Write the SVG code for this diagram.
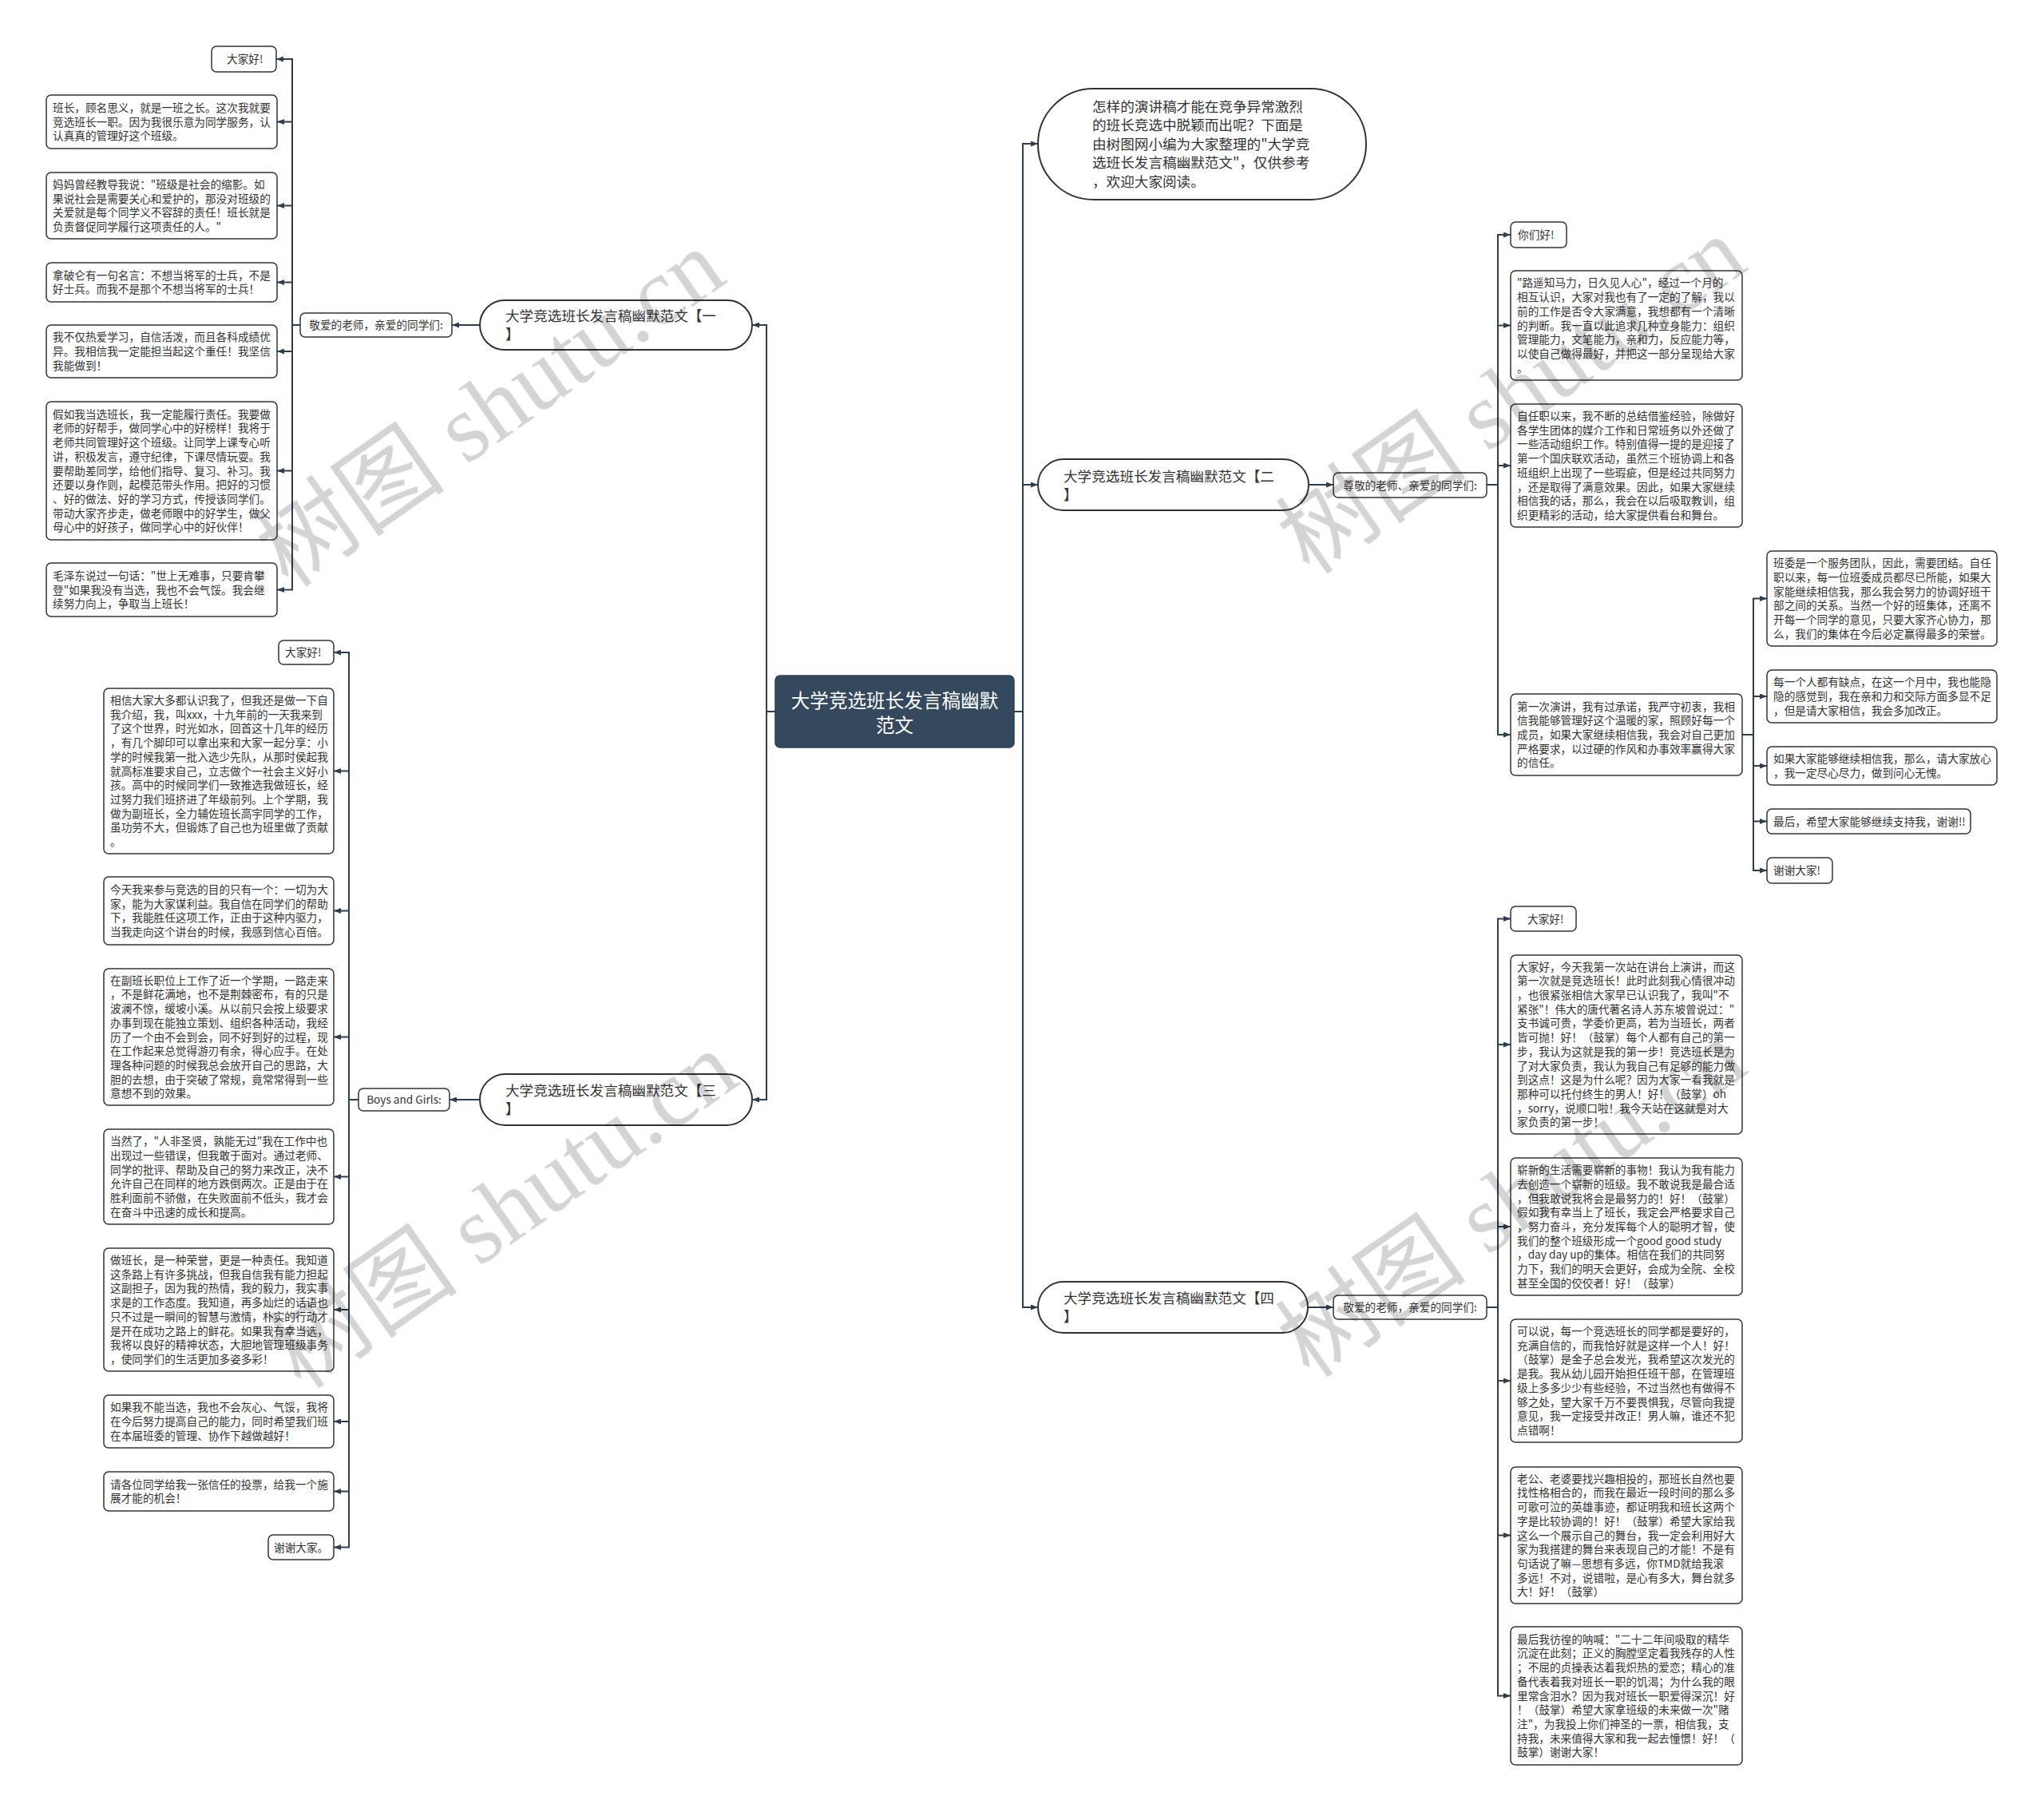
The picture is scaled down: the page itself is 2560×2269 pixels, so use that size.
<svg xmlns="http://www.w3.org/2000/svg" width="2560" height="2269" viewBox="0 0 2560 2269">
<style>
.t{font-family:"Noto Sans CJK SC","Noto Sans",sans-serif;font-size:13.65px;fill:#333}
.b{font-family:"Noto Sans CJK SC","Noto Sans",sans-serif;font-size:17.6px;fill:#333}
.r{font-family:"Noto Sans CJK SC","Noto Sans",sans-serif;font-size:23.6px;fill:#fff}
.leaf{fill:#fff;stroke:#333;stroke-width:1.5}
.pill{fill:#fff;stroke:#333;stroke-width:2}
.c{fill:none;stroke:#2d3e50;stroke-width:2}
.wm{font-family:"Liberation Serif","Noto Sans CJK SC",serif;font-size:120px;fill:#000}
</style>
<defs>
<marker id="a" markerWidth="9" markerHeight="7" refX="9" refY="3.5" orient="auto" markerUnits="userSpaceOnUse"><path d="M0,0 L9,3.5 L0,7 z" fill="#2d3e50"/></marker>
</defs>
<rect width="2560" height="2269" fill="#fff"/>

<g id="connectors">
<path class="c" marker-end="url(#a)" d="M1270,891 H1281 V180 H1300"/>
<path class="c" marker-end="url(#a)" d="M1270,891 H1281 V607 H1300"/>
<path class="c" marker-end="url(#a)" d="M1270,891 H1281 V1637 H1300"/>
<path class="c" marker-end="url(#a)" d="M971,891 H960 V407 H942"/>
<path class="c" marker-end="url(#a)" d="M971,891 H960 V1377 H942"/>
<path class="c" marker-end="url(#a)" d="M601,407 H566"/>
<path class="c" marker-end="url(#a)" d="M376,407 H366 V74 H346"/>
<path class="c" marker-end="url(#a)" d="M376,407 H366 V152.5 H347"/>
<path class="c" marker-end="url(#a)" d="M376,407 H366 V257.5 H347"/>
<path class="c" marker-end="url(#a)" d="M376,407 H366 V353.5 H347"/>
<path class="c" marker-end="url(#a)" d="M376,407 H366 V440 H347"/>
<path class="c" marker-end="url(#a)" d="M376,407 H366 V589.5 H347"/>
<path class="c" marker-end="url(#a)" d="M376,407 H366 V738.5 H347"/>
<path class="c" marker-end="url(#a)" d="M601,1377 H563"/>
<path class="c" marker-end="url(#a)" d="M449,1377 H437 V817 H418"/>
<path class="c" marker-end="url(#a)" d="M449,1377 H437 V965.5 H418"/>
<path class="c" marker-end="url(#a)" d="M449,1377 H437 V1140.5 H418"/>
<path class="c" marker-end="url(#a)" d="M449,1377 H437 V1298.5 H418"/>
<path class="c" marker-end="url(#a)" d="M449,1377 H437 V1473.5 H418"/>
<path class="c" marker-end="url(#a)" d="M449,1377 H437 V1640 H418"/>
<path class="c" marker-end="url(#a)" d="M449,1377 H437 V1780 H418"/>
<path class="c" marker-end="url(#a)" d="M449,1377 H437 V1867.5 H418"/>
<path class="c" marker-end="url(#a)" d="M449,1377 H437 V1937.5 H418"/>
<path class="c" marker-end="url(#a)" d="M1639,607 H1670"/>
<path class="c" marker-end="url(#a)" d="M1862,607 H1876 V294 H1892"/>
<path class="c" marker-end="url(#a)" d="M1862,607 H1876 V407.5 H1892"/>
<path class="c" marker-end="url(#a)" d="M1862,607 H1876 V583 H1892"/>
<path class="c" marker-end="url(#a)" d="M1862,607 H1876 V920 H1892"/>
<path class="c" marker-end="url(#a)" d="M2182,920 H2196 V749.5 H2213"/>
<path class="c" marker-end="url(#a)" d="M2182,920 H2196 V872 H2213"/>
<path class="c" marker-end="url(#a)" d="M2182,920 H2196 V959 H2213"/>
<path class="c" marker-end="url(#a)" d="M2182,920 H2196 V1028.5 H2213"/>
<path class="c" marker-end="url(#a)" d="M2182,920 H2196 V1090 H2213"/>
<path class="c" marker-end="url(#a)" d="M1638,1637 H1670"/>
<path class="c" marker-end="url(#a)" d="M1862,1637 H1876 V1150.5 H1892"/>
<path class="c" marker-end="url(#a)" d="M1862,1637 H1876 V1308 H1892"/>
<path class="c" marker-end="url(#a)" d="M1862,1637 H1876 V1536 H1892"/>
<path class="c" marker-end="url(#a)" d="M1862,1637 H1876 V1729 H1892"/>
<path class="c" marker-end="url(#a)" d="M1862,1637 H1876 V1922.5 H1892"/>
<path class="c" marker-end="url(#a)" d="M1862,1637 H1876 V2123.5 H1892"/>
</g>

<g id="root">
<rect x="971" y="846" width="299" height="90" rx="6" fill="#34495e" stroke="#2c3e50" stroke-width="1.5"/>
<text class="r" text-anchor="middle"><tspan x="1120.5" y="886">大学竞选班长发言稿幽默</tspan><tspan x="1120.5" dy="30.5">范文</tspan></text>
</g>

<g id="intro">
<rect class="pill" x="1300" y="111" width="411" height="139" rx="69.5"/>
<text class="b"><tspan x="1368" y="139.7">怎样的演讲稿才能在竞争异常激烈</tspan><tspan x="1368" dy="23.5">的班长竞选中脱颖而出呢？下面是</tspan><tspan x="1368" dy="23.5">由树图网小编为大家整理的"大学竞</tspan><tspan x="1368" dy="23.5">选班长发言稿幽默范文"，仅供参考</tspan><tspan x="1368" dy="23.5">，欢迎大家阅读。</tspan></text>
</g>

<g id="branch1">
<rect class="pill" x="601" y="376" width="341" height="62" rx="31"/>
<text class="b"><tspan x="633" y="402.2">大学竞选班长发言稿幽默范文【一</tspan><tspan x="633" dy="23">】</tspan></text>
</g>
<g id="branch2">
<rect class="pill" x="1300" y="575" width="339" height="64" rx="32"/>
<text class="b"><tspan x="1332" y="602.7">大学竞选班长发言稿幽默范文【二</tspan><tspan x="1332" dy="23">】</tspan></text>
</g>
<g id="branch3">
<rect class="pill" x="601" y="1345" width="341" height="64" rx="32"/>
<text class="b"><tspan x="633" y="1372.2">大学竞选班长发言稿幽默范文【三</tspan><tspan x="633" dy="23">】</tspan></text>
</g>
<g id="branch4">
<rect class="pill" x="1300" y="1605" width="338" height="64" rx="32"/>
<text class="b"><tspan x="1332" y="1632.2">大学竞选班长发言稿幽默范文【四</tspan><tspan x="1332" dy="23">】</tspan></text>
</g>

<g id="label1">
<rect class="leaf" x="376" y="392" width="190" height="30" rx="6"/>
<text class="t" x="471" y="412" text-anchor="middle">敬爱的老师，亲爱的同学们:</text>
</g>
<g id="label2">
<rect class="leaf" x="1670" y="592" width="192" height="31" rx="6"/>
<text class="t" x="1766" y="612.5" text-anchor="middle">尊敬的老师、亲爱的同学们:</text>
</g>
<g id="label3">
<rect class="leaf" x="449" y="1363" width="114" height="28" rx="6"/>
<text class="t" x="506" y="1382" text-anchor="middle">Boys and Girls:</text>
</g>
<g id="label4">
<rect class="leaf" x="1670" y="1622" width="192" height="30" rx="6"/>
<text class="t" x="1766" y="1642" text-anchor="middle">敬爱的老师，亲爱的同学们:</text>
</g>

<!-- branch 1 leaves -->
<g id="b1n1"><rect class="leaf" x="265" y="58" width="81" height="32" rx="6"/><text class="t" x="284" y="79">大家好!</text></g>
<g id="b1n2"><rect class="leaf" x="58" y="119" width="289" height="67" rx="6"/><text class="t"><tspan x="66" y="139.8">班长，顾名思义，就是一班之长。这次我就要</tspan><tspan x="66" dy="17.7">竞选班长一职。因为我很乐意为同学服务，认</tspan><tspan x="66" dy="17.7">认真真的管理好这个班级。</tspan></text></g>
<g id="b1n3"><rect class="leaf" x="58" y="216" width="289" height="83" rx="6"/><text class="t"><tspan x="66" y="235.95">妈妈曾经教导我说："班级是社会的缩影。如</tspan><tspan x="66" dy="17.7">果说社会是需要关心和爱护的，那没对班级的</tspan><tspan x="66" dy="17.7">关爱就是每个同学义不容辞的责任！班长就是</tspan><tspan x="66" dy="17.7">负责督促同学履行这项责任的人。"</tspan></text></g>
<g id="b1n4"><rect class="leaf" x="58" y="329" width="289" height="49" rx="6"/><text class="t"><tspan x="66" y="349.65">拿破仑有一句名言：不想当将军的士兵，不是</tspan><tspan x="66" dy="17.7">好士兵。而我不是那个不想当将军的士兵！</tspan></text></g>
<g id="b1n5"><rect class="leaf" x="58" y="407" width="289" height="66" rx="6"/><text class="t"><tspan x="66" y="427.3">我不仅热爱学习，自信活泼，而且各科成绩优</tspan><tspan x="66" dy="17.7">异。我相信我一定能担当起这个重任！我坚信</tspan><tspan x="66" dy="17.7">我能做到！</tspan></text></g>
<g id="b1n6"><rect class="leaf" x="58" y="503" width="289" height="173" rx="6"/><text class="t"><tspan x="66" y="523.7">假如我当选班长，我一定能履行责任。我要做</tspan><tspan x="66" dy="17.7">老师的好帮手，做同学心中的好榜样！我将于</tspan><tspan x="66" dy="17.7">老师共同管理好这个班级。让同学上课专心听</tspan><tspan x="66" dy="17.7">讲，积极发言，遵守纪律，下课尽情玩耍。我</tspan><tspan x="66" dy="17.7">要帮助差同学，给他们指导、复习、补习。我</tspan><tspan x="66" dy="17.7">还要以身作则，起模范带头作用。把好的习惯</tspan><tspan x="66" dy="17.7">、好的做法、好的学习方式，传授该同学们。</tspan><tspan x="66" dy="17.7">带动大家齐步走，做老师眼中的好学生，做父</tspan><tspan x="66" dy="17.7">母心中的好孩子，做同学心中的好伙伴！</tspan></text></g>
<g id="b1n7"><rect class="leaf" x="58" y="705" width="289" height="67" rx="6"/><text class="t"><tspan x="66" y="725.8">毛泽东说过一句话："世上无难事，只要肯攀</tspan><tspan x="66" dy="17.7">登"如果我没有当选，我也不会气馁。我会继</tspan><tspan x="66" dy="17.7">续努力向上，争取当上班长！</tspan></text></g>

<!-- branch 3 leaves -->
<g id="b3n1"><rect class="leaf" x="349" y="802" width="69" height="30" rx="6"/><text class="t" x="357" y="822">大家好!</text></g>
<g id="b3n2"><rect class="leaf" x="130" y="862" width="288" height="207" rx="6"/><text class="t"><tspan x="138" y="882">相信大家大多都认识我了，但我还是做一下自</tspan><tspan x="138" dy="17.7">我介绍，我，叫xxx，十九年前的一天我来到</tspan><tspan x="138" dy="17.7">了这个世界，时光如水，回首这十几年的经历</tspan><tspan x="138" dy="17.7">，有几个脚印可以拿出来和大家一起分享：小</tspan><tspan x="138" dy="17.7">学的时候我第一批入选少先队，从那时侯起我</tspan><tspan x="138" dy="17.7">就高标准要求自己，立志做个一社会主义好小</tspan><tspan x="138" dy="17.7">孩。高中的时候同学们一致推选我做班长，经</tspan><tspan x="138" dy="17.7">过努力我们班挤进了年级前列。上个学期，我</tspan><tspan x="138" dy="17.7">做为副班长，全力辅佐班长高宇同学的工作，</tspan><tspan x="138" dy="17.7">虽功劳不大，但锻炼了自己也为班里做了贡献</tspan><tspan x="138" dy="17.7">。</tspan></text></g>
<g id="b3n3"><rect class="leaf" x="130" y="1098" width="288" height="85" rx="6"/><text class="t"><tspan x="138" y="1118.95">今天我来参与竞选的目的只有一个：一切为大</tspan><tspan x="138" dy="17.7">家，能为大家谋利益。我自信在同学们的帮助</tspan><tspan x="138" dy="17.7">下，我能胜任这项工作，正由于这种内驱力，</tspan><tspan x="138" dy="17.7">当我走向这个讲台的时候，我感到信心百倍。</tspan></text></g>
<g id="b3n4"><rect class="leaf" x="130" y="1213" width="288" height="171" rx="6"/><text class="t"><tspan x="138" y="1232.7">在副班长职位上工作了近一个学期，一路走来</tspan><tspan x="138" dy="17.7">，不是鲜花满地，也不是荆棘密布，有的只是</tspan><tspan x="138" dy="17.7">波澜不惊，缓坡小溪。从以前只会按上级要求</tspan><tspan x="138" dy="17.7">办事到现在能独立策划、组织各种活动，我经</tspan><tspan x="138" dy="17.7">历了一个由不会到会，同不好到好的过程，现</tspan><tspan x="138" dy="17.7">在工作起来总觉得游刃有余，得心应手。在处</tspan><tspan x="138" dy="17.7">理各种问题的时候我总会放开自己的思路，大</tspan><tspan x="138" dy="17.7">胆的去想，由于突破了常规，竟常常得到一些</tspan><tspan x="138" dy="17.7">意想不到的效果。</tspan></text></g>
<g id="b3n5"><rect class="leaf" x="130" y="1414" width="288" height="119" rx="6"/><text class="t"><tspan x="138" y="1434.25">当然了，"人非圣贤，孰能无过"我在工作中也</tspan><tspan x="138" dy="17.7">出现过一些错误，但我敢于面对。通过老师、</tspan><tspan x="138" dy="17.7">同学的批评、帮助及自己的努力来改正，决不</tspan><tspan x="138" dy="17.7">允许自己在同样的地方跌倒两次。正是由于在</tspan><tspan x="138" dy="17.7">胜利面前不骄傲，在失败面前不低头，我才会</tspan><tspan x="138" dy="17.7">在奋斗中迅速的成长和提高。</tspan></text></g>
<g id="b3n6"><rect class="leaf" x="130" y="1563" width="288" height="154" rx="6"/><text class="t"><tspan x="138" y="1583.05">做班长，是一种荣誉，更是一种责任。我知道</tspan><tspan x="138" dy="17.7">这条路上有许多挑战，但我自信我有能力担起</tspan><tspan x="138" dy="17.7">这副担子，因为我的热情，我的毅力，我实事</tspan><tspan x="138" dy="17.7">求是的工作态度。我知道，再多灿烂的话语也</tspan><tspan x="138" dy="17.7">只不过是一瞬间的智慧与激情，朴实的行动才</tspan><tspan x="138" dy="17.7">是开在成功之路上的鲜花。如果我有幸当选，</tspan><tspan x="138" dy="17.7">我将以良好的精神状态，大胆地管理班级事务</tspan><tspan x="138" dy="17.7">，使同学们的生活更加多姿多彩！</tspan></text></g>
<g id="b3n7"><rect class="leaf" x="130" y="1747" width="288" height="66" rx="6"/><text class="t"><tspan x="138" y="1767.3">如果我不能当选，我也不会灰心、气馁，我将</tspan><tspan x="138" dy="17.7">在今后努力提高自己的能力，同时希望我们班</tspan><tspan x="138" dy="17.7">在本届班委的管理、协作下越做越好！</tspan></text></g>
<g id="b3n8"><rect class="leaf" x="130" y="1843" width="288" height="49" rx="6"/><text class="t"><tspan x="138" y="1863.65">请各位同学给我一张信任的投票，给我一个施</tspan><tspan x="138" dy="17.7">展才能的机会！</tspan></text></g>
<g id="b3n9"><rect class="leaf" x="336" y="1922" width="82" height="31" rx="6"/><text class="t" x="343" y="1942.5">谢谢大家。</text></g>

<!-- branch 2 leaves -->
<g id="b2n1"><rect class="leaf" x="1892" y="278" width="70" height="32" rx="6"/><text class="t" x="1901" y="299">你们好!</text></g>
<g id="b2n2"><rect class="leaf" x="1892" y="339" width="290" height="137" rx="6"/><text class="t"><tspan x="1900" y="359.4"> "路遥知马力，日久见人心"，经过一个月的</tspan><tspan x="1900" dy="17.7">相互认识，大家对我也有了一定的了解，我以</tspan><tspan x="1900" dy="17.7">前的工作是否令大家满意，我想都有一个清晰</tspan><tspan x="1900" dy="17.7">的判断。我一直以此追求几种立身能力：组织</tspan><tspan x="1900" dy="17.7">管理能力，文笔能力，亲和力，反应能力等，</tspan><tspan x="1900" dy="17.7">以使自己做得最好，并把这一部分呈现给大家</tspan><tspan x="1900" dy="17.7">。</tspan></text></g>
<g id="b2n3"><rect class="leaf" x="1892" y="506" width="290" height="154" rx="6"/><text class="t"><tspan x="1900" y="526.05">自任职以来，我不断的总结借鉴经验，除做好</tspan><tspan x="1900" dy="17.7">各学生团体的媒介工作和日常班务以外还做了</tspan><tspan x="1900" dy="17.7">一些活动组织工作。特别值得一提的是迎接了</tspan><tspan x="1900" dy="17.7">第一个国庆联欢活动，虽然三个班协调上和各</tspan><tspan x="1900" dy="17.7">班组织上出现了一些瑕疵，但是经过共同努力</tspan><tspan x="1900" dy="17.7">，还是取得了满意效果。因此，如果大家继续</tspan><tspan x="1900" dy="17.7">相信我的话，那么，我会在以后吸取教训，组</tspan><tspan x="1900" dy="17.7">织更精彩的活动，给大家提供看台和舞台。</tspan></text></g>
<g id="b2n4"><rect class="leaf" x="1892" y="869" width="290" height="102" rx="6"/><text class="t"><tspan x="1900" y="889.6">第一次演讲，我有过承诺，我严守初衷，我相</tspan><tspan x="1900" dy="17.7">信我能够管理好这个温暖的家，照顾好每一个</tspan><tspan x="1900" dy="17.7">成员，如果大家继续相信我，我会对自己更加</tspan><tspan x="1900" dy="17.7">严格要求，以过硬的作风和办事效率赢得大家</tspan><tspan x="1900" dy="17.7">的信任。</tspan></text></g>
<g id="b2n4a"><rect class="leaf" x="2213" y="690" width="288" height="119" rx="6"/><text class="t"><tspan x="2221" y="710.25">班委是一个服务团队，因此，需要团结。自任</tspan><tspan x="2221" dy="17.7">职以来，每一位班委成员都尽已所能，如果大</tspan><tspan x="2221" dy="17.7">家能继续相信我，那么我会努力的协调好班干</tspan><tspan x="2221" dy="17.7">部之间的关系。当然一个好的班集体，还离不</tspan><tspan x="2221" dy="17.7">开每一个同学的意见，只要大家齐心协力，那</tspan><tspan x="2221" dy="17.7">么，我们的集体在今后必定赢得最多的荣誉。</tspan></text></g>
<g id="b2n4b"><rect class="leaf" x="2213" y="839" width="288" height="66" rx="6"/><text class="t"><tspan x="2221" y="859.3">每一个人都有缺点，在这一个月中，我也能隐</tspan><tspan x="2221" dy="17.7">隐的感觉到，我在亲和力和交际方面多显不足</tspan><tspan x="2221" dy="17.7">，但是请大家相信，我会多加改正。</tspan></text></g>
<g id="b2n4c"><rect class="leaf" x="2213" y="935" width="288" height="48" rx="6"/><text class="t"><tspan x="2221" y="955.15">如果大家能够继续相信我，那么，请大家放心</tspan><tspan x="2221" dy="17.7">，我一定尽心尽力，做到问心无愧。</tspan></text></g>
<g id="b2n4d"><rect class="leaf" x="2213" y="1013" width="255" height="31" rx="6"/><text class="t" x="2221" y="1033.5">最后，希望大家能够继续支持我，谢谢!!</text></g>
<g id="b2n4e"><rect class="leaf" x="2213" y="1074" width="82" height="32" rx="6"/><text class="t" x="2221" y="1095">谢谢大家!</text></g>

<!-- branch 4 leaves -->
<g id="b4n1"><rect class="leaf" x="1892" y="1135" width="82" height="31" rx="6"/><text class="t" x="1913" y="1155.5">大家好!</text></g>
<g id="b4n2"><rect class="leaf" x="1892" y="1196" width="290" height="224" rx="6"/><text class="t"><tspan x="1900" y="1215.65">大家好，今天我第一次站在讲台上演讲，而这</tspan><tspan x="1900" dy="17.7">第一次就是竞选班长！此时此刻我心情很冲动</tspan><tspan x="1900" dy="17.7">，也很紧张相信大家早已认识我了，我叫"不</tspan><tspan x="1900" dy="17.7">紧张"！伟大的唐代著名诗人苏东坡曾说过："</tspan><tspan x="1900" dy="17.7">支书诚可贵，学委价更高，若为当班长，两者</tspan><tspan x="1900" dy="17.7">皆可抛！好！（鼓掌）每个人都有自己的第一</tspan><tspan x="1900" dy="17.7">步，我认为这就是我的第一步！竞选班长是为</tspan><tspan x="1900" dy="17.7">了对大家负责，我认为我自己有足够的能力做</tspan><tspan x="1900" dy="17.7">到这点！这是为什么呢？因为大家一看我就是</tspan><tspan x="1900" dy="17.7">那种可以托付终生的男人！好！（鼓掌）oh</tspan><tspan x="1900" dy="17.7">，sorry，说顺口啦！我今天站在这就是对大</tspan><tspan x="1900" dy="17.7">家负责的第一步！</tspan></text></g>
<g id="b4n3"><rect class="leaf" x="1892" y="1450" width="290" height="172" rx="6"/><text class="t"><tspan x="1900" y="1470.2">崭新的生活需要崭新的事物！我认为我有能力</tspan><tspan x="1900" dy="17.7">去创造一个崭新的班级。我不敢说我是最合适</tspan><tspan x="1900" dy="17.7">，但我敢说我将会是最努力的！好！（鼓掌）</tspan><tspan x="1900" dy="17.7">假如我有幸当上了班长，我定会严格要求自己</tspan><tspan x="1900" dy="17.7">，努力奋斗，充分发挥每个人的聪明才智，使</tspan><tspan x="1900" dy="17.7">我们的整个班级形成一个good good study</tspan><tspan x="1900" dy="17.7">，day day up的集体。相信在我们的共同努</tspan><tspan x="1900" dy="17.7">力下，我们的明天会更好，会成为全院、全校</tspan><tspan x="1900" dy="17.7">甚至全国的佼佼者！好！（鼓掌）</tspan></text></g>
<g id="b4n4"><rect class="leaf" x="1892" y="1652" width="290" height="154" rx="6"/><text class="t"><tspan x="1900" y="1672.05">可以说，每一个竞选班长的同学都是要好的，</tspan><tspan x="1900" dy="17.7">充满自信的，而我恰好就是这样一个人！好！</tspan><tspan x="1900" dy="17.7">（鼓掌）是金子总会发光，我希望这次发光的</tspan><tspan x="1900" dy="17.7">是我。我从幼儿园开始担任班干部，在管理班</tspan><tspan x="1900" dy="17.7">级上多多少少有些经验，不过当然也有做得不</tspan><tspan x="1900" dy="17.7">够之处，望大家千万不要畏惧我，尽管向我提</tspan><tspan x="1900" dy="17.7">意见，我一定接受并改正！男人嘛，谁还不犯</tspan><tspan x="1900" dy="17.7">点错啊！</tspan></text></g>
<g id="b4n5"><rect class="leaf" x="1892" y="1837" width="290" height="171" rx="6"/><text class="t"><tspan x="1900" y="1856.7">老公、老婆要找兴趣相投的，那班长自然也要</tspan><tspan x="1900" dy="17.7">找性格相合的，而我在最近一段时间的那么多</tspan><tspan x="1900" dy="17.7">可歌可泣的英雄事迹，都证明我和班长这两个</tspan><tspan x="1900" dy="17.7">字是比较协调的！好！（鼓掌）希望大家给我</tspan><tspan x="1900" dy="17.7">这么一个展示自己的舞台，我一定会利用好大</tspan><tspan x="1900" dy="17.7">家为我搭建的舞台来表现自己的才能！不是有</tspan><tspan x="1900" dy="17.7">句话说了嘛—思想有多远，你TMD就给我滚</tspan><tspan x="1900" dy="17.7">多远！不对，说错啦，是心有多大，舞台就多</tspan><tspan x="1900" dy="17.7">大！好！（鼓掌）</tspan></text></g>
<g id="b4n6"><rect class="leaf" x="1892" y="2037" width="290" height="173" rx="6"/><text class="t"><tspan x="1900" y="2057.7">最后我彷徨的呐喊："二十二年间吸取的精华</tspan><tspan x="1900" dy="17.7">沉淀在此刻；正义的胸膛坚定着我残存的人性</tspan><tspan x="1900" dy="17.7">；不屈的贞操表达着我炽热的爱恋；精心的准</tspan><tspan x="1900" dy="17.7">备代表着我对班长一职的饥渴；为什么我的眼</tspan><tspan x="1900" dy="17.7">里常含泪水？因为我对班长一职爱得深沉！好</tspan><tspan x="1900" dy="17.7">！（鼓掌）希望大家拿班级的未来做一次"赌</tspan><tspan x="1900" dy="17.7">注"，为我投上你们神圣的一票，相信我，支</tspan><tspan x="1900" dy="17.7">持我，未来值得大家和我一起去憧憬！好！（</tspan><tspan x="1900" dy="17.7">鼓掌）谢谢大家！</tspan></text></g>

<g id="watermarks" opacity="0.17">
<text class="wm" transform="translate(362,738) rotate(-35)">树图 shutu.cn</text>
<text class="wm" transform="translate(378,1742) rotate(-35)">树图 shutu.cn</text>
<text class="wm" transform="translate(1641,722) rotate(-35)">树图 shutu.cn</text>
<text class="wm" transform="translate(1641,1728) rotate(-35)">树图 shutu.cn</text>
</g>
</svg>
